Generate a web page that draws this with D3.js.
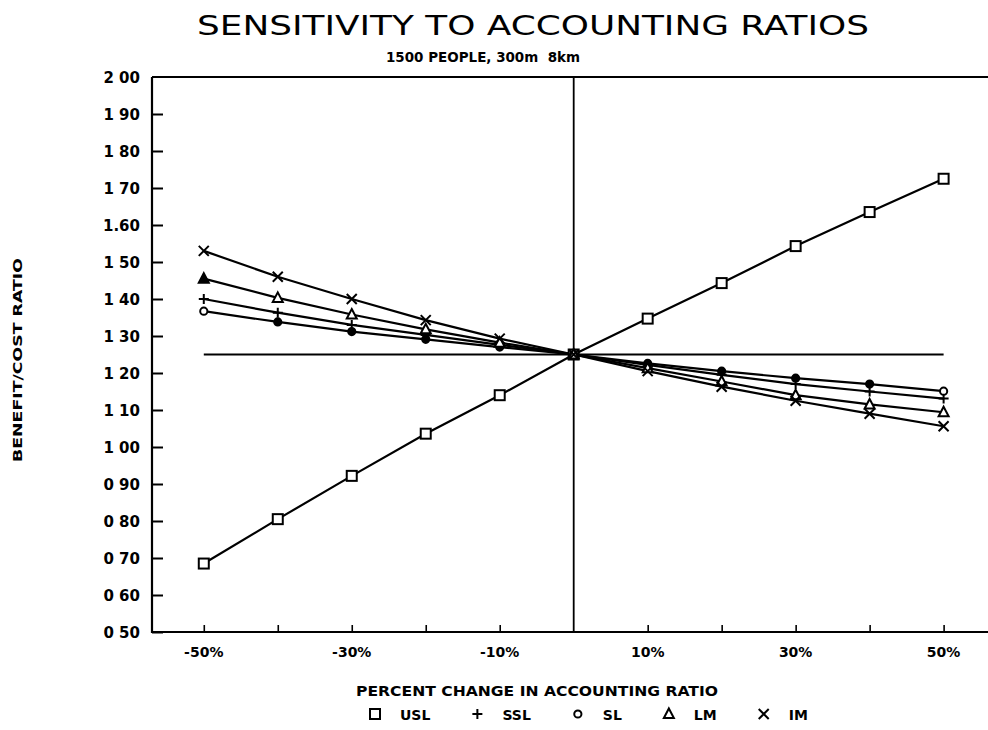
<!DOCTYPE html>
<html>
<head>
<meta charset="utf-8">
<script src="https://cdn.jsdelivr.net/npm/d3@7"></script>
<style>
  html, body { margin: 0; padding: 0; background: #fff; }
  svg { display: block; }
  text { fill: #000; }
</style>
</head>
<body>
<svg id="chart" width="988" height="730"></svg>
<script>
// Percent change in the accounting ratio (x positions of every series)
const steps = [-50, -40, -30, -20, -10, 0, 10, 20, 30, 40, 50];

// Benefit/cost ratio of each scheme at each step
const USL = [0.685, 0.805, 0.922, 1.036, 1.140, 1.25, 1.347, 1.443, 1.543, 1.635, 1.725];
const SSL = [1.400, 1.363, 1.330, 1.303, 1.276, 1.25, 1.222, 1.195, 1.170, 1.150, 1.131];
const SL  = [1.367, 1.338, 1.312, 1.291, 1.270, 1.25, 1.226, 1.205, 1.186, 1.170, 1.151];
const LM  = [1.455, 1.403, 1.358, 1.318, 1.282, 1.25, 1.213, 1.177, 1.140, 1.115, 1.094];
const IM  = [1.530, 1.460, 1.400, 1.343, 1.293, 1.25, 1.205, 1.163, 1.125, 1.090, 1.056];
// Base-case ratio, drawn as a flat reference line
const baseRatio = 1.25;

const seriesNames = ["USL", "SSL", "SL", "LM", "IM"];
const seriesSymbols = ["square", "plus", "circle", "triangle", "cross"];

// Tick values and their printed labels
const xTickValues = [-50, -40, -30, -20, -10, 0, 10, 20, 30, 40, 50];
const xLabelValues = [-50, -30, -10, 10, 30, 50];
const xLabelText = ["-50%", "-30%", "-10%", "10%", "30%", "50%"];
const yTickValues = [0.5, 0.6, 0.7, 0.8, 0.9, 1.0, 1.1, 1.2, 1.3, 1.4, 1.5, 1.6, 1.7, 1.8, 1.9, 2.0];
const yTickText = ["0 50", "0 60", "0 70", "0 80", "0 90", "1 00", "1 10", "1 20",
                   "1 30", "1 40", "1 50", "1.60", "1 70", "1 80", "1 90", "2 00"];

const titleText = "SENSITIVITY TO ACCOUNTING RATIOS";
const subtitleText = "1500 PEOPLE, 300m  8km";
const xTitleText = "PERCENT CHANGE IN ACCOUNTING RATIO";
const yTitleText = "BENEFIT/COST RATIO";

const seriesValues = [USL, SSL, SL, LM, IM];

const svg = d3.select("#chart");
const FONT = "'DejaVu Sans', 'Liberation Sans', sans-serif";

const x = d3.scaleLinear().domain([-57, 56]).range([152, 988]);
const y = d3.scaleLinear().domain([0.5, 2.0]).range([632, 77]);

// Title block
svg.append("text")
  .attr("x", 533).attr("y", 35)
  .attr("text-anchor", "middle")
  .attr("font-family", FONT).attr("font-size", 27).attr("font-weight", "normal")
  .attr("textLength", 672).attr("lengthAdjust", "spacingAndGlyphs")
  .text(titleText);

svg.append("text")
  .attr("x", 483).attr("y", 62)
  .attr("text-anchor", "middle")
  .style("white-space", "pre")
  .attr("font-family", FONT).attr("font-size", 13.5).attr("font-weight", "bold")
  .attr("textLength", 194).attr("lengthAdjust", "spacingAndGlyphs")
  .text(subtitleText);

// Frame: top edge, left axis, bottom axis
const frame = svg.append("g").attr("stroke", "#000").attr("stroke-width", 2.2).attr("fill", "none");
frame.append("line").attr("x1", x.range()[0]).attr("x2", x.range()[1]).attr("y1", y(2.0)).attr("y2", y(2.0));
frame.append("line").attr("x1", x.range()[0]).attr("x2", x.range()[0]).attr("y1", y(2.0)).attr("y2", y(0.5) + 1);
frame.append("line").attr("x1", x.range()[0]).attr("x2", x.range()[1]).attr("y1", y(0.5)).attr("y2", y(0.5));

// Y axis: ticks point into the plot
const yAxis = d3.axisRight(y)
  .tickValues(yTickValues.slice(0, -1))
  .tickSize(11)
  .tickFormat("");
const yg = svg.append("g").attr("transform", `translate(${x.range()[0]},0)`).call(yAxis);
yg.select(".domain").remove();
yg.selectAll(".tick line").attr("stroke", "#000").attr("stroke-width", 2);

svg.append("g").selectAll("text")
  .data(yTickValues)
  .join("text")
  .attr("x", 140)
  .attr("y", d => y(d) + 5.5)
  .attr("text-anchor", "end")
  .attr("font-family", FONT).attr("font-size", 15).attr("font-weight", "bold")
  .text((d, i) => yTickText[i]);

// X axis: short ticks pointing up
const xAxis = d3.axisTop(x)
  .tickValues(xTickValues.filter(v => v !== 0))
  .tickSize(7)
  .tickFormat("");
const xg = svg.append("g").attr("transform", `translate(0,${y(0.5)})`).call(xAxis);
xg.select(".domain").remove();
xg.selectAll(".tick line").attr("stroke", "#000").attr("stroke-width", 1.6);

svg.append("g").selectAll("text")
  .data(xLabelValues)
  .join("text")
  .attr("x", d => x(d))
  .attr("y", 657)
  .attr("text-anchor", "middle")
  .attr("font-family", FONT).attr("font-size", 14).attr("font-weight", "bold")
  .text((d, i) => xLabelText[i]);

// Axis titles
svg.append("text")
  .attr("x", 537).attr("y", 696)
  .attr("text-anchor", "middle")
  .attr("font-family", FONT).attr("font-size", 14).attr("font-weight", 600)
  .attr("textLength", 362).attr("lengthAdjust", "spacingAndGlyphs")
  .text(xTitleText);

svg.append("text")
  .attr("transform", "translate(22,360) rotate(-90)")
  .attr("text-anchor", "middle")
  .attr("font-family", FONT).attr("font-size", 12).attr("font-weight", "bold")
  .attr("textLength", 204).attr("lengthAdjust", "spacingAndGlyphs")
  .text(yTitleText);

// Zero-change vertical reference line
svg.append("line")
  .attr("x1", x(0)).attr("x2", x(0))
  .attr("y1", y(2.0)).attr("y2", y(0.5))
  .attr("stroke", "#000").attr("stroke-width", 1.8);

// Base-case horizontal line
svg.append("line")
  .attr("x1", x(steps[0])).attr("x2", x(steps[steps.length - 1]))
  .attr("y1", y(baseRatio)).attr("y2", y(baseRatio))
  .attr("stroke", "#000").attr("stroke-width", 2);

// Marker drawing
function drawSymbol(g, kind, cx, cy, filled) {
  const s = 5;
  let el;
  if (kind === "square") {
    el = g.append("rect").attr("x", cx - s).attr("y", cy - s).attr("width", 2 * s).attr("height", 2 * s)
      .attr("fill", "#fff");
  } else if (kind === "plus") {
    el = g.append("path").attr("d", `M${cx - s},${cy}H${cx + s}M${cx},${cy - s}V${cy + s}`)
      .attr("fill", "none");
  } else if (kind === "circle") {
    el = g.append("circle").attr("cx", cx).attr("cy", cy).attr("r", 3.6).attr("fill", filled ? "#000" : "#fff");
  } else if (kind === "triangle") {
    el = g.append("path").attr("d", `M${cx},${cy - s - 0.5}L${cx + s},${cy + s - 1}L${cx - s},${cy + s - 1}Z`)
      .attr("fill", filled ? "#000" : "#fff");
  } else {
    el = g.append("path").attr("d", `M${cx - s},${cy - s}L${cx + s},${cy + s}M${cx - s},${cy + s}L${cx + s},${cy - s}`)
      .attr("fill", "none");
  }
  el.attr("stroke", "#000").attr("stroke-width", 2);
}

const line = d3.line().x(d => x(d[0])).y(d => y(d[1]));

seriesValues.forEach(vals => {
  const pts = steps.map((s, i) => [s, vals[i]]);
  svg.append("path")
    .datum(pts)
    .attr("d", line)
    .attr("fill", "none")
    .attr("stroke", "#000")
    .attr("stroke-width", 2.2);
});

seriesValues.forEach((vals, si) => {
  const g = svg.append("g");
  const kind = seriesSymbols[si];
  steps.forEach((s, i) => {
    // SL inner points and the first LM point are printed solid
    const endPoint = i === 0 || i === steps.length - 1;
    const filled = (kind === "circle" && !endPoint) || (kind === "triangle" && i === 0);
    drawSymbol(g, kind, x(s), y(vals[i]), filled);
  });
});

// Legend laid out left to right
const legend = svg.append("g");
let lx = 375;
seriesNames.forEach((name, i) => {
  const kind = seriesSymbols[i];
  const g = legend.append("g");
  drawSymbol(g, kind, lx, 714, false);
  const t = legend.append("text")
    .attr("x", lx + 25).attr("y", 719.5)
    .attr("font-family", FONT).attr("font-size", 14).attr("font-weight", 600)
    .text(name);
  lx = lx + 25 + t.node().getComputedTextLength() + 47;
});
</script>
</body>
</html>
